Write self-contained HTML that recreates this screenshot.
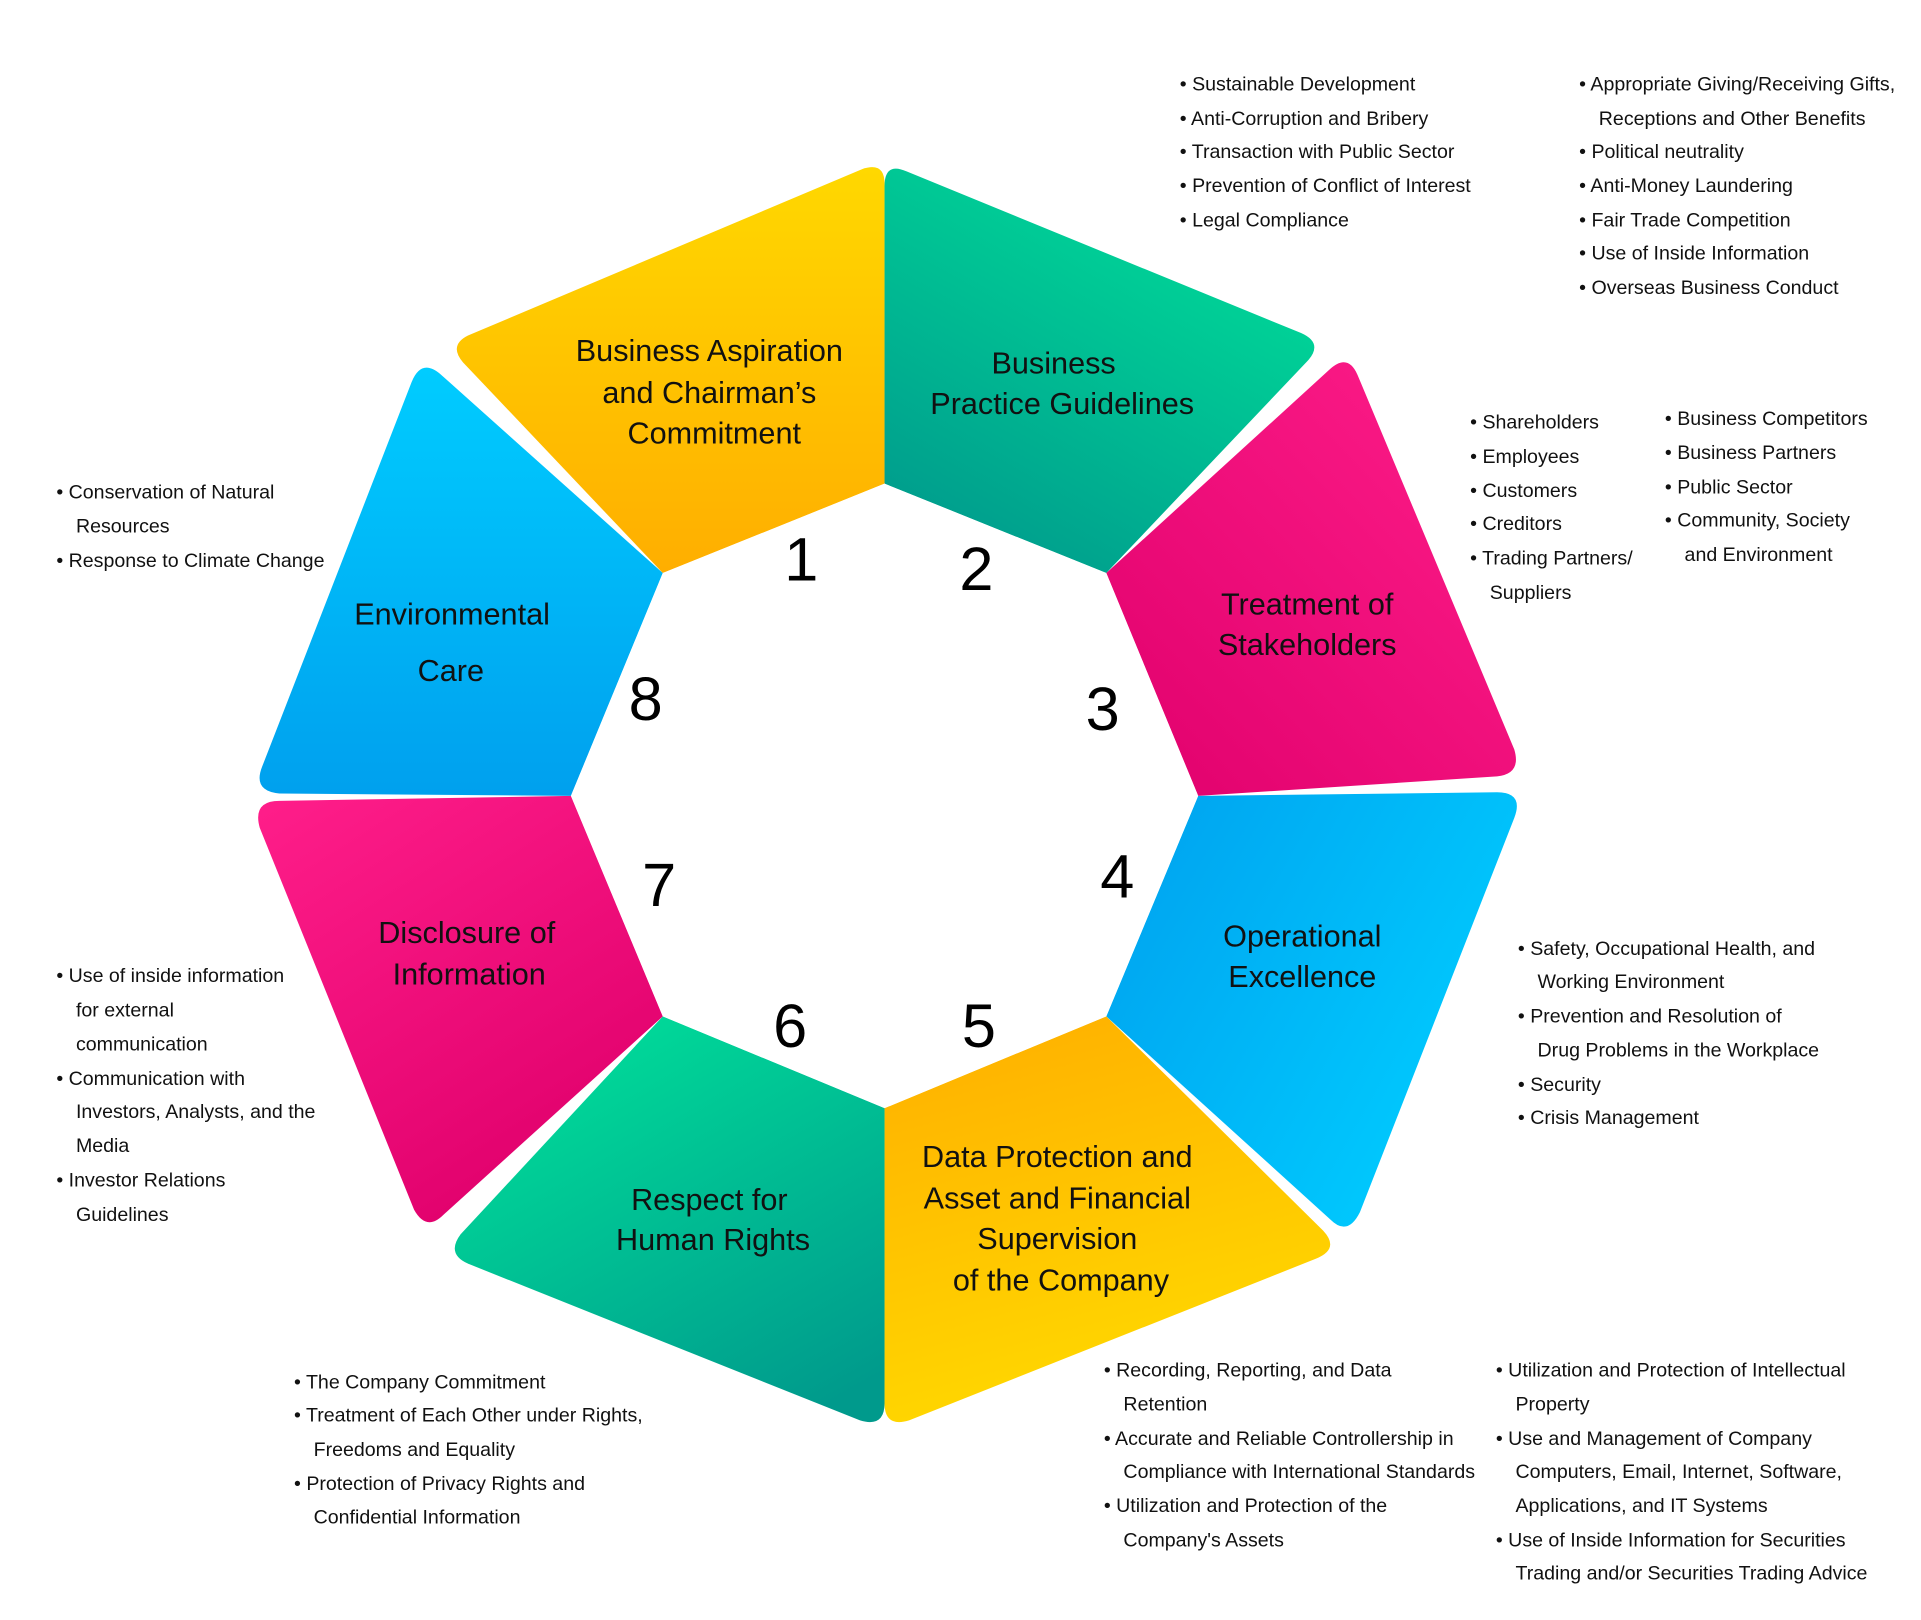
<!DOCTYPE html>
<html><head><meta charset="utf-8"><style>
html,body{margin:0;padding:0;background:#fff;}
svg{display:block;}
.b{font-family:"Liberation Sans Narrow","Liberation Sans",sans-serif;font-size:16px;fill:#111;}
.l{font-family:"Liberation Sans Narrow","Liberation Sans",sans-serif;font-size:25px;fill:#111;text-anchor:middle;}
.n{font-family:"Liberation Sans",sans-serif;font-size:50px;fill:#000;text-anchor:middle;}
</style></head><body>
<svg width="1921" height="1620" viewBox="0 0 1568 1323" preserveAspectRatio="none" xmlns="http://www.w3.org/2000/svg">
<defs>
<linearGradient id="gy1" x1="0" y1="0" x2="0" y2="1"><stop offset="0" stop-color="#ffd800"/><stop offset="1" stop-color="#ffae00"/></linearGradient>
<linearGradient id="gy5" x1="0" y1="0" x2="0.3" y2="1"><stop offset="0" stop-color="#ffae00"/><stop offset="1" stop-color="#ffd800"/></linearGradient>
<linearGradient id="gg2" x1="0.8" y1="0" x2="0.2" y2="1"><stop offset="0" stop-color="#00e09a"/><stop offset="1" stop-color="#009a8c"/></linearGradient>
<linearGradient id="gg6" x1="0.2" y1="0" x2="0.8" y2="1"><stop offset="0" stop-color="#00e09a"/><stop offset="1" stop-color="#009a8c"/></linearGradient>
<linearGradient id="gp3" x1="1" y1="0" x2="0" y2="1"><stop offset="0" stop-color="#ff1e8a"/><stop offset="1" stop-color="#e0006c"/></linearGradient>
<linearGradient id="gp7" x1="0" y1="0" x2="0.6" y2="1"><stop offset="0" stop-color="#ff1e8a"/><stop offset="1" stop-color="#e0006c"/></linearGradient>
<linearGradient id="gb4" x1="0" y1="0" x2="1" y2="0.6"><stop offset="0" stop-color="#00a0ee"/><stop offset="1" stop-color="#00ccff"/></linearGradient>
<linearGradient id="gb8" x1="0.5" y1="0" x2="0.5" y2="1"><stop offset="0" stop-color="#00ccff"/><stop offset="1" stop-color="#00a0ee"/></linearGradient>
</defs>
<path d="M722,395 L541,468 L378,296 Q366,282 382,274 L704,138 Q722,132 722,150 Z" fill="url(#gy1)"/>
<path d="M722,395 L722,152 Q722,132 740,140 L1062,272 Q1080,280 1068,294 L903,468 Z" fill="url(#gg2)"/>
<path d="M903,468 L1085,302 Q1100,288 1108,306 L1236,612 Q1242,632 1222,634 L978,650 Z" fill="url(#gp3)"/>
<path d="M978,650 L1222,647 Q1244,647 1236,668 L1110,990 Q1100,1010 1086,996 L903,830 Z" fill="url(#gb4)"/>
<path d="M903,830 L1080,1005 Q1094,1020 1074,1028 L742,1160 Q722,1166 722,1146 L722,905 Z" fill="url(#gy5)"/>
<path d="M722,905 L722,1146 Q722,1166 702,1160 L382,1032 Q364,1024 376,1008 L541,830 Z" fill="url(#gg6)"/>
<path d="M541,830 L362,992 Q348,1006 338,988 L212,676 Q206,654 228,654 L466,650 Z" fill="url(#gp7)"/>
<path d="M466,650 L228,648 Q206,646 214,626 L336,312 Q344,292 360,306 L541,468 Z" fill="url(#gb8)"/>
<polygon points="722,395 903,468 978,650 903,830 722,905 541,830 466,650 541,468" fill="#fff"/>
<g class="n">
<text x="654" y="474">1</text><text x="797" y="482">2</text><text x="900" y="596">3</text><text x="912" y="733">4</text>
<text x="799" y="855">5</text><text x="645" y="855">6</text><text x="538" y="740">7</text><text x="527" y="588">8</text>
</g>
<g class="l">
<text x="579" y="295">Business Aspiration</text><text x="579" y="329">and Chairman’s</text><text x="583" y="362">Commitment</text>
<text x="860" y="305">Business</text><text x="867" y="338">Practice Guidelines</text>
<text x="1067" y="502">Treatment of</text><text x="1067" y="535">Stakeholders</text>
<text x="1063" y="773">Operational</text><text x="1063" y="806">Excellence</text>
<text x="863" y="953">Data Protection and</text><text x="863" y="987">Asset and Financial</text><text x="863" y="1020">Supervision</text><text x="866" y="1054">of the Company</text>
<text x="579" y="988">Respect for</text><text x="582" y="1021">Human Rights</text>
<text x="381" y="770">Disclosure of</text><text x="383" y="804">Information</text>
<text x="369" y="510">Environmental</text><text x="368" y="556">Care</text>
</g>
<g class="b">
<text x="963" y="74">•  Sustainable Development</text>
<text x="963" y="102">•  Anti-Corruption and Bribery</text>
<text x="963" y="129">•  Transaction with Public Sector</text>
<text x="963" y="157">•  Prevention of Conflict of Interest</text>
<text x="963" y="185">•  Legal Compliance</text>

<text x="1289" y="74">•  Appropriate Giving/Receiving Gifts,</text>
<text x="1305" y="102">Receptions and Other Benefits</text>
<text x="1289" y="129">•  Political neutrality</text>
<text x="1289" y="157">•  Anti-Money Laundering</text>
<text x="1289" y="185">•  Fair Trade Competition</text>
<text x="1289" y="212">•  Use of Inside Information</text>
<text x="1289" y="240">•  Overseas Business Conduct</text>

<text x="1200" y="350">•  Shareholders</text>
<text x="1200" y="378">•  Employees</text>
<text x="1200" y="406">•  Customers</text>
<text x="1200" y="433">•  Creditors</text>
<text x="1200" y="461">•  Trading Partners/</text>
<text x="1216" y="489">Suppliers</text>

<text x="1359" y="347">•  Business Competitors</text>
<text x="1359" y="375">•  Business Partners</text>
<text x="1359" y="403">•  Public Sector</text>
<text x="1359" y="430">•  Community, Society</text>
<text x="1375" y="458">and Environment</text>

<text x="46" y="407">•  Conservation of Natural</text>
<text x="62" y="435">Resources</text>
<text x="46" y="463">•  Response to Climate Change</text>

<text x="1239" y="780">•  Safety, Occupational Health, and</text>
<text x="1255" y="807">Working Environment</text>
<text x="1239" y="835">•  Prevention and Resolution of</text>
<text x="1255" y="863">Drug Problems in the Workplace</text>
<text x="1239" y="891">•  Security</text>
<text x="1239" y="918">•  Crisis Management</text>

<text x="46" y="802">•  Use of inside information</text>
<text x="62" y="830">for external</text>
<text x="62" y="858">communication</text>
<text x="46" y="886">•  Communication with</text>
<text x="62" y="913">Investors, Analysts, and the</text>
<text x="62" y="941">Media</text>
<text x="46" y="969">•  Investor Relations</text>
<text x="62" y="997">Guidelines</text>

<text x="240" y="1134">•  The Company Commitment</text>
<text x="240" y="1161">•  Treatment of Each Other under Rights,</text>
<text x="256" y="1189">Freedoms and Equality</text>
<text x="240" y="1217">•  Protection of Privacy Rights and</text>
<text x="256" y="1244">Confidential Information</text>

<text x="901" y="1124">•  Recording, Reporting, and Data</text>
<text x="917" y="1152">Retention</text>
<text x="901" y="1180">•  Accurate and Reliable Controllership in</text>
<text x="917" y="1207">Compliance with International Standards</text>
<text x="901" y="1235">•  Utilization and Protection of the</text>
<text x="917" y="1263">Company's Assets</text>

<text x="1221" y="1124">•  Utilization and Protection of Intellectual</text>
<text x="1237" y="1152">Property</text>
<text x="1221" y="1180">•  Use and Management of Company</text>
<text x="1237" y="1207">Computers, Email, Internet, Software,</text>
<text x="1237" y="1235">Applications, and IT Systems</text>
<text x="1221" y="1263">•  Use of Inside Information for Securities</text>
<text x="1237" y="1290">Trading and/or Securities Trading Advice</text>
</g>
</svg>
</body></html>
